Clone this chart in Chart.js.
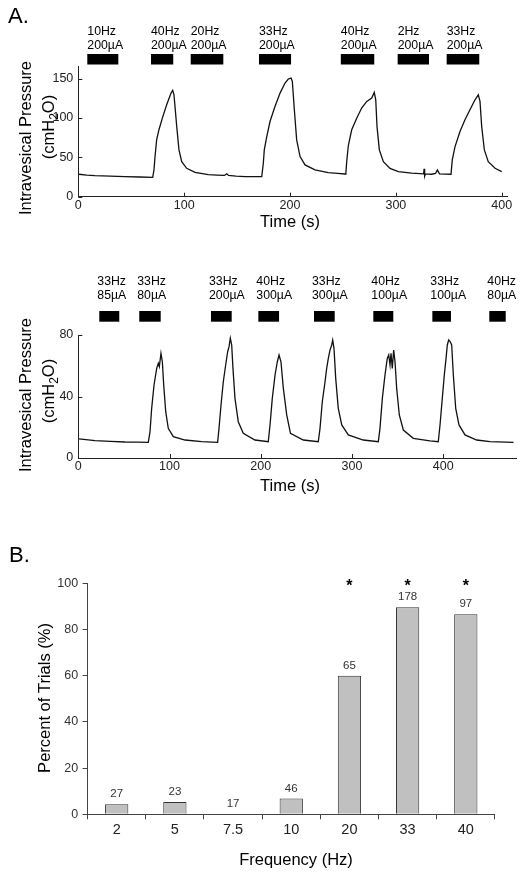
<!DOCTYPE html>
<html><head><meta charset="utf-8">
<script src="https://cdn.jsdelivr.net/npm/chart.js@4.4.1/dist/chart.umd.min.js"></script>
<style>
html,body{margin:0;padding:0;background:#fff;width:528px;height:876px;overflow:hidden;}
canvas{position:absolute;left:0;}
</style></head><body>
<canvas id="c1" width="528" height="236" style="top:0px;width:528px;height:236px"></canvas>
<canvas id="c2" width="528" height="260" style="top:240px;width:528px;height:260px"></canvas>
<canvas id="c3" width="528" height="356" style="top:520px;width:528px;height:356px"></canvas>
<script>
// ---------- DATA ----------
// Panel A, upper trace: time (s) and intravesical pressure (cmH2O)
const topTime = [0.7, 8, 15.8, 30, 44, 58, 70.3, 71.5, 72.5, 74, 76.2, 79.4, 83.5, 87.6, 89.2, 90.4, 93, 95.1, 97.7, 102.4, 110.3, 122.8, 131, 138, 140.2, 142, 149, 157.5, 166, 173.3, 174.8, 175.7, 178, 181.1, 185.8, 190.6, 195.3, 198.4, 201, 202.2, 204.1, 206.3, 209.5, 214.2, 223.6, 236.2, 245, 252, 252.8, 253.6, 255.1, 258.3, 263, 267.7, 272.5, 277.2, 279.6, 281, 282.2, 284.4, 288.2, 294.5, 302.3, 315, 326.2, 326.7, 327.2, 328, 333.9, 337.5, 339.2, 341.2, 352.1, 353.3, 355.9, 360.6, 365.3, 370, 374.8, 377.9, 379.5, 381.1, 383.6, 387.3, 393.7, 400];
const topPressure = [28.5, 27.5, 26.7, 26, 25.5, 25, 24.6, 34, 51, 72, 85, 99.7, 116.7, 131.5, 134.9, 129.4, 89, 59.4, 44.5, 36, 31, 28, 27.5, 27, 29, 27, 26, 25.4, 25.4, 25.4, 42.5, 59.4, 76, 95.4, 114.5, 131.5, 144.3, 149.4, 150.6, 146.3, 110.3, 72.1, 50.9, 40.3, 34, 30.5, 29.5, 28.8, 30, 45, 65, 84.9, 99.7, 112.5, 120.9, 125.2, 132.3, 123, 89, 59.4, 44.5, 36, 31.8, 29.8, 28.9, 35.5, 26, 29, 28.5, 29.5, 34, 29, 28.5, 46.7, 63.6, 82.7, 97.6, 110.3, 123, 129.4, 120.9, 89, 59.4, 44.5, 36, 31.8];
const topStimStart = [8.5, 68.7, 106.2, 170.7, 248, 301.7, 348];
const topStimEnd   = [37.8, 89.7, 137, 201, 279.6, 331.3, 378.8];
const topStimFreq  = ['10Hz', '40Hz', '20Hz', '33Hz', '40Hz', '2Hz', '33Hz'];
const topStimAmp   = ['200µA', '200µA', '200µA', '200µA', '200µA', '200µA', '200µA'];
const topXTicks = [0, 100, 200, 300, 400];
const topYTicks = [0, 50, 100, 150];

// Panel A, lower trace
const botTime = [0.8, 18.3, 35, 51.2, 65, 76.7, 78.6, 80.4, 83, 85.9, 87.7, 88.8, 90.6, 92.1, 93.6, 95.8, 98.6, 104.1, 117, 135.2, 152.7, 154.2, 156.4, 158.9, 161.5, 163.7, 165.2, 166.6, 168.1, 169.5, 171.7, 175.3, 180.8, 193.6, 208.2, 210.1, 212.6, 215.6, 218.1, 220, 222.1, 224.7, 228.4, 232.5, 246.6, 263, 264.9, 267.4, 270.4, 272.2, 274, 275.8, 277.7, 278.8, 280.2, 282.1, 284.9, 288.7, 295.9, 312.3, 328.8, 330.6, 333.2, 336.1, 338.6, 340.2, 341.6, 342.7, 344.1, 345.6, 347.1, 348.9, 351.8, 356.2, 367.1, 385.4, 394.5, 396.4, 398.9, 401.1, 403, 404.4, 405.9, 407.3, 409.2, 411, 413.6, 417.2, 423.8, 436.6, 451.2, 477];
const botPressure = [12.4, 11.3, 10.8, 10.4, 10.3, 10.2, 17.1, 32.3, 47.5, 58.3, 61.6, 59.4, 68.1, 62.6, 47.5, 30.1, 19.3, 13.9, 11.7, 10.6, 10.2, 19.3, 34.5, 49.6, 60.5, 69.1, 72.4, 77.9, 73.5, 58.3, 38.8, 23.6, 16.1, 11.7, 10.6, 21.5, 38.8, 54, 62.6, 67, 62.6, 45.3, 28, 16, 11.7, 10.6, 19.3, 36.6, 49.6, 58.3, 64.8, 70.2, 73.5, 76.7, 71.3, 51.8, 32.3, 21.5, 15, 11.7, 10.6, 19.3, 38.8, 54, 64.8, 67, 60.5, 68.1, 58.3, 70.2, 62.6, 45.3, 28, 18.2, 12.8, 11.1, 10.6, 21.5, 38.8, 54, 64.8, 73.5, 76.7, 75.9, 73.5, 54, 32.3, 21.5, 15, 11.7, 10.6, 10.2];
const botStimStart = [23, 66.8, 145.4, 197.3, 258.3, 323.3, 388, 450.4];
const botStimEnd   = [44.9, 90.3, 168.1, 220, 281, 345.2, 408.4, 468.4];
const botStimFreq  = ['33Hz', '33Hz', '33Hz', '40Hz', '33Hz', '40Hz', '33Hz', '40Hz'];
const botStimAmp   = ['85µA', '80µA', '200µA', '300µA', '300µA', '100µA', '100µA', '80µA'];
const botXTicks = [0, 100, 200, 300, 400];
const botYTicks = [0, 40, 80];

// Panel B
const freqLabels  = ['2', '5', '7.5', '10', '20', '33', '40'];
const pctTrials   = [4.3, 5.3, 0, 6.8, 60, 89.6, 86.6];
const trialCounts = ['27', '23', '17', '46', '65', '178', '97'];
const significant = [false, false, false, false, true, true, true];
const pctYTicks = [0, 20, 40, 60, 80, 100];

// ---------- RENDER ----------
const FONT = '"Liberation Sans", Arial, Helvetica, sans-serif';
Chart.defaults.font.family = FONT;
Chart.defaults.animation = false;

function font(px, bold) { return (bold ? 'bold ' : '') + px + 'px ' + FONT; }

function drawYTitle(ctx, cx1, cy1, cx2, cy2) {
  ctx.save();
  ctx.fillStyle = '#000';
  ctx.translate(cx1, cy1); ctx.rotate(-Math.PI / 2);
  ctx.font = font(16.5); ctx.textAlign = 'center'; ctx.textBaseline = 'alphabetic';
  ctx.fillText('Intravesical Pressure', 0, 6);
  ctx.restore();
  ctx.save();
  ctx.fillStyle = '#000';
  ctx.translate(cx2, cy2); ctx.rotate(-Math.PI / 2);
  ctx.textAlign = 'left'; ctx.textBaseline = 'alphabetic';
  ctx.font = font(16.5); const w1 = ctx.measureText('(cmH').width; const w3 = ctx.measureText('O)').width;
  ctx.font = font(12); const w2 = ctx.measureText('2').width;
  const sx = -(w1 + w2 + w3) / 2;
  ctx.font = font(16.5); ctx.fillText('(cmH', sx, 6);
  ctx.font = font(12); ctx.fillText('2', sx + w1, 10);
  ctx.font = font(16.5); ctx.fillText('O)', sx + w1 + w2, 6);
  ctx.restore();
}

function fixedTicks(list) {
  return s => { s.ticks = list.map(v => ({ value: v })); };
}

function traceChart(id, T, P, cfg) {
  const plugin = {
    id: 'extras_' + id,
    afterDraw(chart) {
      const ctx = chart.ctx, ca = chart.chartArea, xs = chart.scales.x, ys = chart.scales.y;
      ctx.save();
      // inward tick marks
      ctx.strokeStyle = '#222'; ctx.lineWidth = 1; ctx.beginPath();
      cfg.xTicks.forEach(v => { const px = Math.round(xs.getPixelForValue(v)) + 0.5; ctx.moveTo(px, ca.bottom); ctx.lineTo(px, ca.bottom - 4); });
      cfg.yTicks.forEach(v => { const py = Math.round(ys.getPixelForValue(v)) + 0.5; ctx.moveTo(ca.left, py); ctx.lineTo(ca.left + 4, py); });
      ctx.stroke();
      // stimulation bars + labels
      ctx.fillStyle = '#000';
      ctx.textAlign = 'left'; ctx.textBaseline = 'alphabetic'; ctx.font = font(12.3);
      cfg.start.forEach((s, i) => {
        const x0 = xs.getPixelForValue(s), x1 = xs.getPixelForValue(cfg.end[i]);
        ctx.fillRect(x0, cfg.barTop, x1 - x0, cfg.barH);
        ctx.fillText(cfg.freq[i], x0 + cfg.labelDx, cfg.l1);
        ctx.fillText(cfg.amp[i], x0 + cfg.labelDx, cfg.l2);
      });
      // x title
      ctx.font = font(16.5); ctx.textAlign = 'center';
      ctx.fillText('Time (s)', cfg.xtX, cfg.xtY);
      if (cfg.panel) { ctx.font = font(22); ctx.textAlign = 'left'; ctx.fillText(cfg.panel, 8, 23); }
      ctx.restore();
      drawYTitle(ctx, 25.3, cfg.yt1, 47.5, cfg.yt2);
    }
  };
  return new Chart(document.getElementById(id), {
    type: 'scatter',
    data: { datasets: [{ data: T.map((t, i) => ({ x: t, y: P[i] })), showLine: true, borderColor: '#111', borderWidth: 1.3, pointRadius: 0, tension: 0, fill: false }] },
    options: {
      responsive: false, devicePixelRatio: 1, animation: false, events: [],
      layout: { padding: cfg.padding },
      plugins: { legend: { display: false }, tooltip: { enabled: false } },
      scales: {
        x: { type: 'linear', min: 0, max: cfg.xMax,
          border: { display: true, color: '#222', width: 1 },
          grid: { display: false, drawTicks: false },
          ticks: { padding: 1, maxRotation: 0, color: '#222', font: { size: 12.5 } },
          afterBuildTicks: fixedTicks(cfg.xTicks),
          afterFit: s => { s.height = 30; } },
        y: { type: 'linear', min: 0, max: cfg.yMax,
          border: { display: true, color: '#222', width: 1 },
          grid: { display: false, drawTicks: false },
          ticks: { padding: 5, color: '#222', font: { size: 12.5 } },
          afterBuildTicks: fixedTicks(cfg.yTicks),
          afterFit: s => { s.width = 40; } }
      }
    },
    plugins: [plugin]
  });
}

traceChart('c1', topTime, topPressure, {
  xMax: 405, yMax: 165, xTicks: topXTicks, yTicks: topYTicks,
  padding: { left: 38.3, right: 21, top: 66.7, bottom: 9.3 },
  start: topStimStart, end: topStimEnd, freq: topStimFreq, amp: topStimAmp,
  barTop: 54, barH: 10.5, labelDx: 0, l1: 35.4, l2: 49.4,
  xtX: 290, xtY: 227, yt1: 138, yt2: 127, panel: 'A.'
});

traceChart('c2', botTime, botPressure, {
  xMax: 480, yMax: 80, xTicks: botXTicks, yTicks: botYTicks,
  padding: { left: 38.3, right: 11.7, top: 95, bottom: 12 },
  start: botStimStart, end: botStimEnd, freq: botStimFreq, amp: botStimAmp,
  barTop: 71, barH: 10.7, labelDx: -2, l1: 45.1, l2: 59.4,
  xtX: 290, xtY: 251, yt1: 155, yt2: 151, panel: null
});

// Panel B
const barPlugin = {
  id: 'barExtras',
  afterDraw(chart) {
    const ctx = chart.ctx, meta = chart.getDatasetMeta(0);
    ctx.save();
    ctx.fillStyle = '#333'; ctx.textAlign = 'center'; ctx.textBaseline = 'alphabetic';
    meta.data.forEach((el, i) => {
      ctx.font = font(11.5); ctx.fillStyle = '#333';
      ctx.fillText(trialCounts[i], el.x, el.y - 7);
      if (significant[i]) { ctx.font = font(16, true); ctx.fillStyle = '#000'; ctx.fillText('*', el.x, 71); }
    });
    ctx.fillStyle = '#000';
    ctx.font = font(16.5); ctx.textAlign = 'center';
    ctx.fillText('Frequency (Hz)', 296, 345);
    ctx.save(); ctx.translate(43.8, 178); ctx.rotate(-Math.PI / 2);
    ctx.fillText('Percent of Trials (%)', 0, 6); ctx.restore();
    ctx.font = font(22); ctx.textAlign = 'left';
    ctx.fillText('B.', 9, 42);
    ctx.restore();
  }
};

new Chart(document.getElementById('c3'), {
  type: 'bar',
  data: { labels: freqLabels, datasets: [{ data: pctTrials, backgroundColor: '#c0c0c0', borderColor: '#333', borderWidth: 1, borderSkipped: 'start', barPercentage: 0.8, categoryPercentage: 0.5 }] },
  options: {
    responsive: false, devicePixelRatio: 1, animation: false, events: [],
    layout: { padding: { left: 37.6, right: 33.1, top: 63.3, bottom: 26.7 } },
    plugins: { legend: { display: false }, tooltip: { enabled: false } },
    scales: {
      x: { border: { display: true, color: '#444', width: 1 },
        grid: { display: true, drawOnChartArea: false, drawTicks: true, tickLength: 5, offset: true, color: '#444' },
        ticks: { padding: 2, color: '#222', font: { size: 14.5 }, maxRotation: 0 },
        afterFit: s => { s.height = 35; } },
      y: { min: 0, max: 100,
        border: { display: true, color: '#444', width: 1 },
        grid: { display: true, drawOnChartArea: false, drawTicks: true, tickLength: 5, color: '#444' },
        ticks: { padding: 4.5, color: '#333', font: { size: 12.5 } },
        afterBuildTicks: fixedTicks(pctYTicks),
        afterFit: s => { s.width = 50; } }
    }
  },
  plugins: [barPlugin]
});
</script>
</body></html>
